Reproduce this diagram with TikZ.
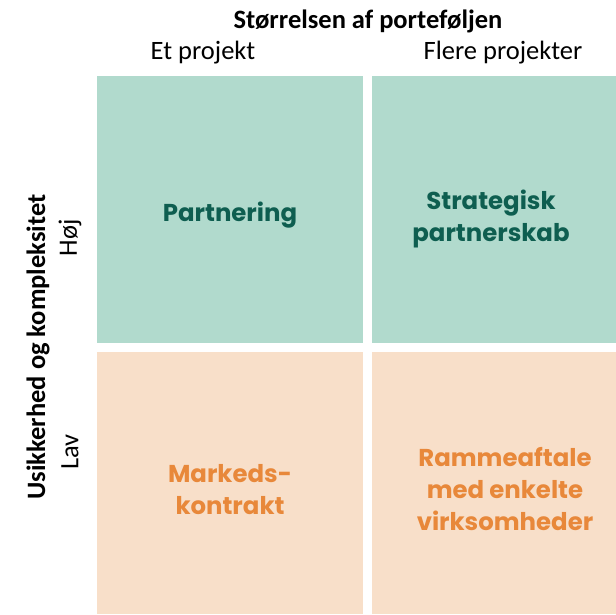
\documentclass[tikz,border=0pt]{standalone}
\usepackage{fontspec}
\setmainfont{Carlito}
\newfontfamily\quadfont{Poppins}
\usetikzlibrary{positioning}

\definecolor{hoejfill}{HTML}{B1DACD}
\definecolor{hoejtext}{HTML}{0E5E50}
\definecolor{lavfill}{HTML}{F8DFC9}
\definecolor{lavtext}{HTML}{E8883A}

\tikzset{
  quadlabel/.style={font=\quadfont\bfseries\fontsize{24.4}{32}\selectfont, align=center},
  axislabel/.style={font=\fontsize{26.5}{30}\selectfont},
}

\begin{document}
\begin{tikzpicture}[x=1pt,y=-1pt]
\useasboundingbox (0,0) rectangle (616,614);
% felter
\fill[hoejfill] (97,76) rectangle (363,343);
\fill[hoejfill] (372,76) rectangle (616,343);
\fill[lavfill] (97,352) rectangle (363,614);
\fill[lavfill] (372,352) rectangle (616,614);

\node[quadlabel,text=hoejtext] (partnering) at (230,215) {Partnering};
\node[quadlabel,text=hoejtext] (strategisk) at (491,219) {Strategisk\\partnerskab};
\node[quadlabel,text=lavtext] (markeds) at (230,490) {Markeds-\\kontrakt};
\node[quadlabel,text=lavtext] (ramme) at (505,489) {Rammeaftale\\med enkelte\\virksomheder};

% akser
\node[axislabel,font=\bfseries\fontsize{26.5}{30}\selectfont] (stoerrelse) at (368,21) {Størrelsen af porteføljen};
\node[axislabel] (et) at (203,53) {Et projekt};
\node[axislabel] (flere) at (503,53) {Flere projekter};
\node[axislabel,font=\bfseries\fontsize{26.5}{30}\selectfont,rotate=90] (usikkerhed) at (38,347) {Usikkerhed og kompleksitet};
\node[axislabel,rotate=90] (hoej) at (70,238) {Høj};
\node[axislabel,rotate=90] (lav) at (70,452) {Lav};

\end{tikzpicture}
\end{document}
